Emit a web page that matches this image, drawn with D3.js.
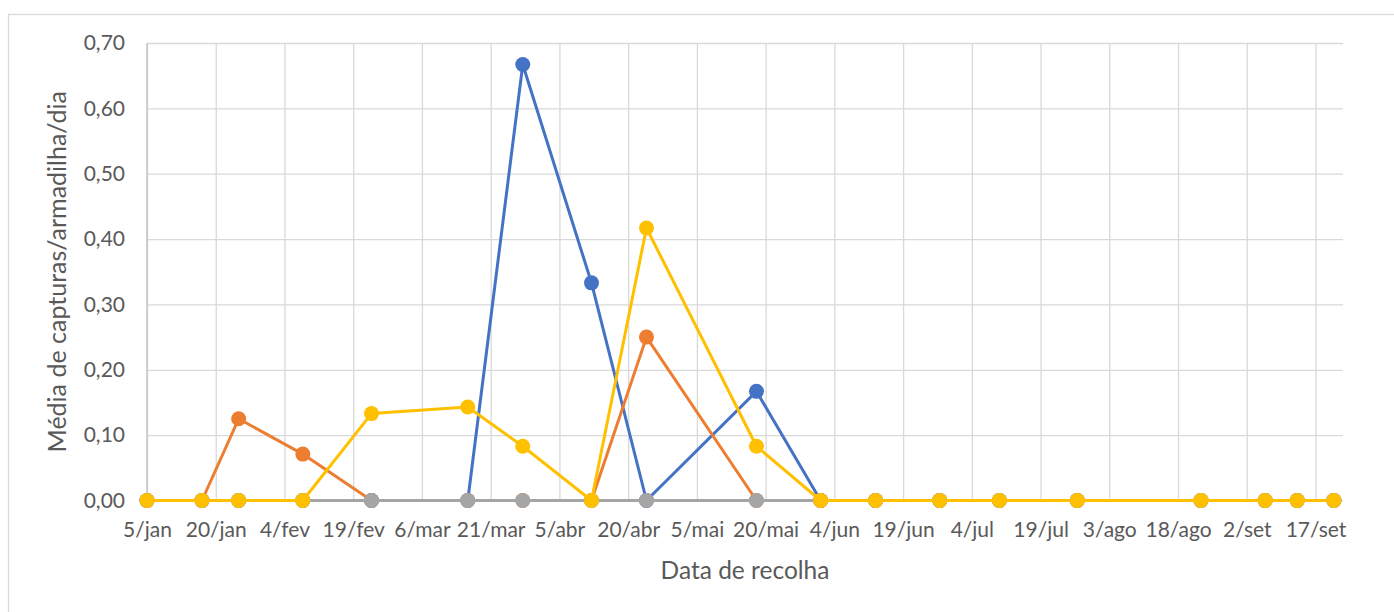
<!DOCTYPE html>
<html>
<head>
<meta charset="utf-8">
<script src="https://cdn.jsdelivr.net/npm/d3@7"></script>
<style>
  body { margin: 0; background: #fff; }
  svg { display: block; font-family: Lato, "Open Sans", sans-serif; }
</style>
</head>
<body>
<svg id="svg" width="1394" height="612"></svg>
<script>
const MONTHS = ['jan', 'fev', 'mar', 'abr', 'mai', 'jun', 'jul', 'ago', 'set', 'out', 'nov', 'dez'];

// datas de recolha
const dates = ['5/jan', '17/jan', '25/jan', '8/fev', '23/fev', '16/mar', '28/mar', '12/abr', '24/abr', '18/mai',
  '1/jun', '13/jun', '27/jun', '10/jul', '27/jul', '23/ago', '6/set', '13/set', '21/set'];

const serie1 = [0, 0, 0, 0, 0, 0, 0.667, 0.333, 0, 0.167, 0, 0, 0, 0, 0, 0, 0, 0, 0];
const serie2 = [0, 0, 0.125, 0.071, 0, 0, 0, 0, 0.25, 0, 0, 0, 0, 0, 0, 0, 0, 0, 0];
const serie3 = [0, 0, 0, 0, 0, 0, 0, 0, 0, 0, 0, 0, 0, 0, 0, 0, 0, 0, 0];
const serie4 = [0, 0, 0, 0, 0.133, 0.143, 0.083, 0, 0.417, 0.083, 0, 0, 0, 0, 0, 0, 0, 0, 0];

const xTickLabels = ['5/jan', '20/jan', '4/fev', '19/fev', '6/mar', '21/mar', '5/abr', '20/abr', '5/mai', '20/mai',
  '4/jun', '19/jun', '4/jul', '19/jul', '3/ago', '18/ago', '2/set', '17/set'];
const xDomain = ['5/jan', '23/set'];
const yTicks = [0, 0.1, 0.2, 0.3, 0.4, 0.5, 0.6, 0.7];

const colors = ['#4472C4', '#ED7D31', '#A5A5A5', '#FFC000'];

const parse = s => {
  const [d, m] = s.split('/');
  return new Date(Date.UTC(2019, MONTHS.indexOf(m), +d));
};

const pt = d3.formatLocale({decimal: ',', thousands: '.', grouping: [3], currency: ['', '€']});
const fmt = pt.format('.2f');

const mLeft = 147, mRight = 1343, mTop = 43, mBottom = 500.5;

const svg = d3.select('#svg');

// moldura do gráfico
svg.append('rect')
  .attr('x', 8.5).attr('y', 14.5)
  .attr('width', 1420).attr('height', 640)
  .attr('fill', 'none')
  .attr('stroke', '#D9D9D9')
  .attr('stroke-width', 1.3);

const x = d3.scaleUtc().domain(xDomain.map(parse)).range([mLeft, mRight]);
const y = d3.scaleLinear().domain([0, 0.7]).range([mBottom, mTop]);

const tickDates = xTickLabels.map(parse);

// grelha vertical
svg.append('g')
  .attr('transform', `translate(0,${mBottom})`)
  .call(d3.axisBottom(x).tickValues(tickDates).tickSize(-(mBottom - mTop)).tickFormat(''))
  .call(g => g.select('.domain').remove())
  .call(g => g.selectAll('line').attr('stroke', '#D9D9D9').attr('stroke-width', 1.3));

// grelha horizontal
svg.append('g')
  .attr('transform', `translate(${mLeft},0)`)
  .call(d3.axisLeft(y).tickValues(yTicks).tickSize(-(mRight - mLeft)).tickFormat(''))
  .call(g => g.select('.domain').remove())
  .call(g => g.selectAll('line').attr('stroke', '#D9D9D9').attr('stroke-width', 1.3));

// eixo vertical
svg.append('line')
  .attr('x1', mLeft).attr('x2', mLeft)
  .attr('y1', mTop).attr('y2', mBottom)
  .attr('stroke', '#BFBFBF')
  .attr('stroke-width', 1.3);

// rótulos do eixo y
svg.append('g')
  .attr('transform', `translate(${mLeft - 19},0)`)
  .call(d3.axisLeft(y).tickValues(yTicks).tickSize(0).tickFormat(fmt))
  .call(g => g.select('.domain').remove())
  .call(g => g.selectAll('text')
    .attr('fill', '#595959')
    .style('font-size', '21px')
    .style('font-family', 'Lato, sans-serif'));

// rótulos do eixo x
svg.append('g')
  .attr('transform', `translate(0,${mBottom})`)
  .call(d3.axisBottom(x).tickValues(tickDates).tickSize(0).tickFormat((d, i) => xTickLabels[i]))
  .call(g => g.select('.domain').remove())
  .call(g => g.selectAll('text')
    .attr('y', 36.5)
    .attr('dy', 0)
    .attr('fill', '#595959')
    .style('font-size', '21px')
    .style('font-family', 'Lato, sans-serif'));

const series = [serie1, serie2, serie3, serie4];
const line = d3.line().x(d => x(d.date)).y(d => y(d.value));

series.forEach((s, k) => {
  const pts = s.map((v, i) => ({date: parse(dates[i]), value: v}));
  const g = svg.append('g');
  g.append('path')
    .datum(pts)
    .attr('d', line)
    .attr('fill', 'none')
    .attr('stroke', colors[k])
    .attr('stroke-width', 3)
    .attr('stroke-linejoin', 'round');
  g.selectAll('circle')
    .data(pts)
    .enter()
    .append('circle')
    .attr('cx', d => x(d.date))
    .attr('cy', d => y(d.value))
    .attr('r', 7.5)
    .attr('fill', colors[k]);
});

// títulos dos eixos
svg.append('text')
  .attr('transform', `translate(66,${(mTop + mBottom) / 2}) rotate(-90)`)
  .attr('text-anchor', 'middle')
  .attr('fill', '#595959')
  .style('font-size', '25px')
  .text('Média de capturas/armadilha/dia');

svg.append('text')
  .attr('x', (mLeft + mRight) / 2)
  .attr('y', 579)
  .attr('text-anchor', 'middle')
  .attr('fill', '#595959')
  .style('font-size', '24.5px')
  .text('Data de recolha');
</script>
</body>
</html>
